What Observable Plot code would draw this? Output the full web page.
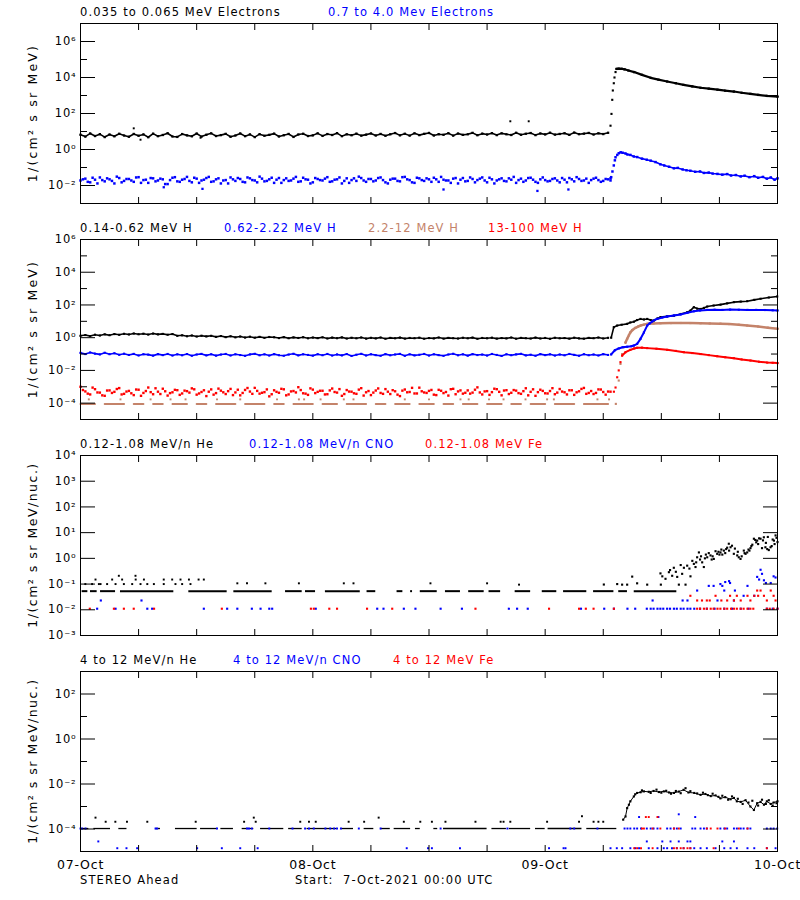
<!DOCTYPE html>
<html><head><meta charset="utf-8">
<script src="https://cdn.jsdelivr.net/npm/d3@7"></script>
<script src="https://cdn.jsdelivr.net/npm/@observablehq/plot@0.6"></script>
<style>
body{margin:0;background:#fff;}
#chart{position:relative;width:800px;height:900px;background:#fff;font-family:"DejaVu Sans",sans-serif;overflow:hidden;}
.t{position:absolute;white-space:nowrap;font-size:11.5px;letter-spacing:1.1px;line-height:1;transform:translateY(-50%);}
.yl{position:absolute;white-space:nowrap;font-size:12.5px;line-height:1;transform:translate(-50%,-50%) rotate(-90deg);}
.p{position:absolute;left:0;}
</style></head><body><div id="chart"></div><script>
// ---------------- DATA (hours since 7-Oct-2021 00:00 UTC) ----------------
const STEP = 0.5; // baseline sampling (h)
const OFFSET_B = 0.25; // second interleaved baseline sample
const BLUE = "#0000ff", RED = "#ff0000", BROWN = "#c4836a", BLACK = "#000000";

// Panel 1 : electrons
const p1BlackBase = [6.6,5.2,7.8,5.6,7.1,4.9,6.8,5.4,7.5,6.0, 5.1,7.3,5.8,6.9,4.8,7.6,5.5,6.4,8.0,5.3,
 5.0,7.2,6.1,5.4,7.7,5.2,6.6,7.9,5.6,6.3, 7.4,5.1,6.0,7.8,5.5,6.9,4.9,7.1,5.8,6.5,
 7.6,5.3,6.2,7.3,5.0,6.8,7.5,5.6,6.1,7.9, 5.7,7.2,6.4,8.1,5.5,7.0,6.2,7.6,5.9,6.7,
 7.8,6.0,7.3,5.8,7.0,8.2,6.1,7.5,5.9,7.9, 6.3,7.4,8.3,6.0,7.1,6.6,8.0,5.9,7.7,6.5,
 7.0,8.4,6.2,7.6,6.8,8.1,6.3,7.9,7.0,6.4, 8.5,6.6,7.5,8.2,6.3,7.8,6.9,8.6,6.7,7.3,
 8.0,6.5,8.7,7.1,7.6,8.3,6.8,7.9,7.2,8.5];
const p1BlackSpikeT = [5.5,6.2,12.4,44.4,46.3];
const p1BlackSpikeV = [15,3.5,4.5,37,37];
const p1BlackRiseT = [54.75,54.85,54.93,54.99,55.09,55.16,55.27];
const p1BlackRiseV = [21,95,575,1900,4800,10000,20000];
const p1BlackDecayT = [55.37,55.6,55.9,56.2,56.6,57.2,58.0,58.9,59.7,60.6,61.5,62.3,63.2,64.05,64.9,65.8,66.6,67.5,68.3,69.2,70.0,70.9,72.0];
const p1BlackDecayV = [30000,31000,30500,28500,24500,20000,14000,9600,7600,6000,4800,3900,3200,2700,2400,2100,1850,1660,1420,1230,1080,950,870];

const p1BlueBase = [0.019,0.024,0.015,0.021,0.028,0.017,0.022,0.013,0.026,0.018,
 0.023,0.016,0.029,0.020,0.014,0.025,0.019,0.022,0.012,0.027, 0.017,0.021,0.030,0.015,0.024,0.019,0.026,0.016,0.022,0.013,
 0.020,0.028,0.018,0.023,0.015,0.025,0.019,0.031,0.017,0.022, 0.014,0.026,0.020,0.018,0.024,0.016,0.027,0.021,0.015,0.023,
 0.019,0.029,0.017,0.022,0.013,0.025,0.020,0.018,0.026,0.016, 0.023,0.019,0.028,0.015,0.021,0.024,0.017,0.030,0.020,0.014,
 0.025,0.018,0.022,0.027,0.016,0.021,0.019,0.024,0.013,0.026, 0.018,0.023,0.020,0.028,0.015,0.022,0.019,0.025,0.017,0.021,
 0.014,0.024,0.019,0.027,0.016,0.022,0.020,0.018,0.025,0.015, 0.021,0.026,0.017,0.023,0.019,0.014,0.024,0.020,0.018,0.022];
const p1BlueBaseB = [0.022,0.016,0.027,0.013,0.020,0.025,0.018,0.031,0.015,0.023,
 0.019,0.028,0.014,0.021,0.026,0.017,0.024,0.012,0.020,0.029, 0.016,0.023,0.018,0.027,0.014,0.021,0.030,0.017,0.025,0.019,
 0.013,0.022,0.026,0.016,0.028,0.020,0.015,0.024,0.018,0.027, 0.021,0.014,0.025,0.019,0.030,0.017,0.022,0.013,0.026,0.020,
 0.024,0.016,0.021,0.028,0.018,0.014,0.025,0.031,0.019,0.023, 0.017,0.026,0.020,0.013,0.024,0.018,0.029,0.022,0.015,0.027,
 0.020,0.025,0.016,0.022,0.030,0.019,0.014,0.026,0.021,0.017, 0.028,0.015,0.024,0.019,0.027,0.013,0.022,0.018,0.025,0.030,
 0.020,0.016,0.026,0.021,0.014,0.028,0.017,0.023,0.019,0.026, 0.015,0.022,0.029,0.018,0.024,0.020,0.027,0.016,0.023,0.019];
const p1BlueLowT = [8.6,12.6,37.5,47.2,50.4];
const p1BlueLowV = [0.008,0.0065,0.006,0.005,0.006];
const p1BlueRiseT = [54.75,54.82,54.95,55.09,55.2,55.27,55.45];
const p1BlueRiseV = [0.025,0.029,0.06,0.13,0.25,0.37,0.5];
const p1BlueDecayT = [55.6,55.8,56.0,56.3,56.5,56.8,57.16,57.5,58.0,58.5,58.9,59.4,59.9,60.3,60.8,61.3,61.7,62.2,62.6,63.0,63.5,64.0,64.4,64.9,65.3,65.8,66.3,66.8,67.2,67.7,68.2,68.6,69.1,69.6,70.0,70.5,70.9,71.3,71.7,72.0];
const p1BlueDecayV = [0.62,0.7,0.66,0.6,0.53,0.5,0.41,0.38,0.31,0.27,0.24,0.2,0.15,0.13,0.11,0.09,0.095,0.078,0.07,0.066,0.058,0.06,0.05,0.052,0.046,0.044,0.04,0.043,0.036,0.038,0.032,0.035,0.029,0.033,0.027,0.03,0.024,0.028,0.021,0.025];

// Panel 2 : protons
const p2BlackBase = [1.30,1.45,1.25,1.52,1.36,1.60,1.42,1.66,1.50,1.72, 1.58,1.80,1.62,1.75,1.55,1.78,1.60,1.70,1.52,1.66,
 1.30,1.40,1.22,1.36,1.18,1.32,1.20,1.30,1.12,1.26, 1.08,1.22,1.05,1.18,1.02,1.15,1.00,1.12,0.98,1.10,
 1.06,0.95,1.08,0.93,1.04,0.96,1.07,0.92,1.02,0.94, 1.05,0.90,1.01,0.93,1.04,0.89,0.99,0.92,1.03,0.88,
 0.98,0.91,1.02,0.87,0.97,0.92,1.01,0.88,0.96,0.93, 1.00,0.87,0.95,0.91,1.02,0.88,0.97,0.93,0.89,0.99,
 0.92,1.01,0.86,0.96,0.92,1.00,0.88,0.95,0.91,1.02, 0.87,0.97,0.93,0.89,1.01,0.90,0.96,0.86,0.99,0.92,
 0.95,0.88,1.00,0.91,0.87,0.97,0.93,1.02,0.90,0.98];
const p2BlackEvT = [54.82,55.09,55.44,55.9,56.47,56.8,57.16,57.5,57.85,58.2,58.54,58.9,59.22,59.6,59.91,60.6,61.29,62.0,62.67,63.0,63.36,63.7,64.05,64.4,64.74,65.4,66.11,66.8,67.49,68.2,68.87,69.6,70.25,71.1,71.97];
const p2BlackEvV = [1.0,4.4,5.5,6.2,7,8.5,9.5,12,14,13,14,12,11,15,18,20,22,28,36,45,73,60,57,66,80,92,105,125,148,160,170,205,240,285,330];

const p2BlueBase = [0.118,0.100,0.125,0.106,0.095,0.120,0.098,0.112,0.090,0.105,
 0.088,0.102,0.082,0.098,0.092,0.080,0.099,0.086,0.101,0.081, 0.096,0.084,0.100,0.079,0.094,0.102,0.083,0.097,0.080,0.093,
 0.101,0.082,0.097,0.087,0.078,0.095,0.103,0.084,0.096,0.081, 0.099,0.085,0.079,0.093,0.104,0.083,0.097,0.088,0.080,0.098,
 0.085,0.101,0.081,0.095,0.083,0.100,0.077,0.091,0.103,0.082, 0.097,0.086,0.079,0.099,0.084,0.094,0.102,0.078,0.096,0.083,
 0.090,0.101,0.081,0.097,0.086,0.078,0.094,0.104,0.084,0.096, 0.080,0.099,0.087,0.093,0.081,0.101,0.088,0.077,0.097,0.085,
 0.095,0.103,0.083,0.091,0.079,0.099,0.086,0.096,0.081,0.094, 0.084,0.101,0.089,0.079,0.098,0.085,0.094,0.082,0.099,0.088];
const p2BlueEvT = [54.82,55.2,55.6,56.0,56.47,56.9,57.16,57.5,57.85,58.2,58.54,58.8,59.05,59.3,59.57,60.1,60.6,61.3,61.98,62.7,63.36,64.0,64.74,65.5,66.3,67.1,68.0,68.9,69.8,70.7,71.5,72.0];
const p2BlueEvV = [0.095,0.17,0.22,0.26,0.28,0.3,0.33,0.42,0.85,2.1,5.5,7.5,9.6,12,14,17,19.5,23,26,33,41,46,50,51,50,52,51,50,50,49,47,46];

const BROWN_HIGH = 1.7e-4;
const p2BrownBase = [9e-5,9e-5,9e-5,9e-5,null,9e-5,9e-5,9e-5,9e-5,9e-5, null,9e-5,9e-5,9e-5,null,9e-5,9e-5,9e-5,null,9e-5,
 9e-5,9e-5,9e-5,null,9e-5,9e-5,9e-5,null,9e-5,9e-5, 9e-5,9e-5,9e-5,null,9e-5,9e-5,9e-5,9e-5,9e-5,null,
 9e-5,9e-5,9e-5,null,9e-5,9e-5,9e-5,9e-5,9e-5,null, 9e-5,9e-5,9e-5,9e-5,null,9e-5,9e-5,9e-5,9e-5,9e-5,
 null,9e-5,9e-5,9e-5,null,9e-5,9e-5,9e-5,9e-5,null, 9e-5,9e-5,9e-5,9e-5,null,9e-5,9e-5,9e-5,null,9e-5,
 9e-5,9e-5,9e-5,null,9e-5,9e-5,9e-5,9e-5,null,9e-5, 9e-5,9e-5,null,9e-5,9e-5,9e-5,9e-5,null,9e-5,9e-5,
 9e-5,9e-5,9e-5,null,9e-5,9e-5,9e-5,9e-5,9e-5,9e-5];
const p2BrownHiT = [0.86,4.13,7.24,9.3,10.85,14.1,16.5,20.3,22.56,23.1,24.8,27.2,28.2,33.5,36.0,39.25,40.1,42.2,43.7,45.97,48.2,48.9,53.4,54.6];
const p2BrownEvT = [55.3,55.6,55.78,55.95,56.12,56.3,56.47,56.65,56.8,57.0,57.33,57.6,57.85,58.2,58.54,59.2,59.91,61.0,62.0,63.0,64.05,65.0,66.11,67.0,68.0,68.87,70.0,71.0,72.0];
const p2BrownEvV = [9e-5,0.0024,0.025,0.1,0.26,0.5,0.85,1.4,2.1,2.9,4,4.8,5.5,6.3,7,7.4,7.6,7.8,7.9,7.8,7.6,7.4,7.2,6.8,6.2,5.5,4.8,4.1,3.5];

const p2RedBase = [1.0e-3,5.2e-4,3.4e-4,7.1e-4,4.4e-4,2.8e-4,6.0e-4,4.9e-4,8.3e-4,3.7e-4,
 5.6e-4,3.1e-4,6.6e-4,4.2e-4,9.0e-4,3.5e-4,5.0e-4,7.6e-4,2.9e-4,4.6e-4, 6.2e-4,3.9e-4,5.4e-4,8.0e-4,3.3e-4,4.8e-4,2.7e-4,6.9e-4,4.1e-4,5.8e-4,
 3.6e-4,7.4e-4,4.5e-4,3.0e-4,6.4e-4,5.1e-4,8.6e-4,3.8e-4,4.7e-4,2.6e-4, 6.1e-4,4.3e-4,7.0e-4,3.4e-4,5.5e-4,9.4e-4,4.0e-4,3.2e-4,6.7e-4,4.9e-4,
 5.7e-4,3.5e-4,7.8e-4,4.4e-4,2.8e-4,6.3e-4,5.0e-4,3.7e-4,8.2e-4,4.6e-4, 3.1e-4,5.9e-4,4.2e-4,7.2e-4,3.6e-4,5.3e-4,2.7e-4,6.8e-4,4.8e-4,3.9e-4,
 8.8e-4,4.5e-4,5.6e-4,3.3e-4,6.5e-4,4.1e-4,2.9e-4,7.5e-4,5.2e-4,3.8e-4, 6.0e-4,4.4e-4,9.2e-4,3.4e-4,5.4e-4,4.7e-4,7.1e-4,3.0e-4,6.2e-4,4.3e-4,
 5.8e-4,3.7e-4,8.1e-4,4.9e-4,2.8e-4,6.6e-4,4.0e-4,5.5e-4,3.5e-4,7.3e-4, 4.6e-4,6.1e-4,3.2e-4,5.3e-4,8.5e-4,4.2e-4,3.6e-4,6.9e-4,4.8e-4,5.1e-4];
const p2RedBaseB = [6.3e-4,3.8e-4,8.9e-4,4.5e-4,3.0e-4,5.9e-4,4.2e-4,7.3e-4,3.4e-4,5.1e-4,
 4.0e-4,6.8e-4,2.8e-4,5.5e-4,4.7e-4,8.1e-4,3.6e-4,5.3e-4,4.1e-4,6.5e-4, 3.2e-4,5.8e-4,4.4e-4,7.0e-4,3.9e-4,6.1e-4,5.0e-4,3.3e-4,7.7e-4,4.6e-4,
 5.4e-4,3.1e-4,6.6e-4,4.2e-4,8.4e-4,3.7e-4,5.6e-4,4.3e-4,6.9e-4,3.5e-4, 4.9e-4,7.5e-4,3.0e-4,5.2e-4,4.5e-4,6.3e-4,3.8e-4,8.0e-4,4.1e-4,5.7e-4,
 3.4e-4,6.0e-4,4.8e-4,7.2e-4,3.6e-4,5.1e-4,4.0e-4,6.7e-4,2.9e-4,5.5e-4, 4.4e-4,7.9e-4,3.7e-4,5.0e-4,6.2e-4,3.3e-4,5.8e-4,4.6e-4,8.6e-4,3.9e-4,
 5.3e-4,4.2e-4,6.4e-4,3.1e-4,5.7e-4,4.8e-4,7.1e-4,3.5e-4,6.0e-4,4.3e-4, 3.8e-4,6.6e-4,4.5e-4,5.2e-4,3.2e-4,7.6e-4,4.9e-4,5.9e-4,3.6e-4,6.3e-4,
 4.1e-4,5.4e-4,3.0e-4,7.0e-4,4.7e-4,5.6e-4,3.9e-4,8.2e-4,4.4e-4,5.1e-4, 3.4e-4,6.1e-4,4.6e-4,7.4e-4,3.7e-4,5.5e-4,4.2e-4,6.8e-4,3.3e-4,5.0e-4];
const p2RedEvT = [55.1,55.27,55.44,55.6,55.78,55.95,56.3,56.8,57.2,57.5,58.0,58.54,59.5,60.6,61.5,62.33,63.2,64.05,64.9,65.77,66.6,67.49,68.3,69.21,70.1,70.94,71.5,72.0];
const p2RedEvV = [5e-4,9e-4,0.0038,0.01,0.032,0.08,0.13,0.18,0.22,0.24,0.245,0.23,0.21,0.18,0.155,0.13,0.115,0.1,0.086,0.074,0.064,0.056,0.047,0.04,0.034,0.03,0.029,0.028];
const RISE_END = {brown: 56.3, red: 55.95}; // before these times the rise is drawn as loose dots

// Panel 3 : 0.12-1.08 MeV/n ions
const P3_HE_LOW = 0.053, P3_LOW = 0.011;
const p3HeLowSeg = [[0.17,0.76],[1.03,1.72],[2.07,3.62],[4.13,9.64],[11.19,15.15],[15.84,19.8],[21.18,22.9],[23.24,24.28],[25.3,28.9],[29.6,30.5],[32.7,33.3],[34.1,34.3],[35.1,36.85],[37.7,39.25],[40.1,41.7],[42.2,43.4],[44.9,46.5],[47.7,49.2],[49.9,52.3],[53.0,55.1],[55.6,56.5],[57.2,61.6]];
const p3HeBgT = [0.5,1.2,1.9,2.07,2.75,3.62,4.48,5.34,6.2,6.9,7.58,8.6,9.81,10.5,11.36,16.2,17.2,19.1,22.56,27.2,28.2,36.15,42.0,45.3,1.55,3.27,4.3,5.7,6.55,8.6,9.47,10.33,11.2,12.2,12.74,3.96,5.68];
const p3HeBgV = [0.1,0.1,0.1,0.1,0.1,0.1,0.1,0.1,0.1,0.1,0.1,0.1,0.1,0.1,0.1,0.107,0.107,0.107,0.107,0.107,0.107,0.107,0.107,0.095,0.15,0.15,0.15,0.15,0.15,0.15,0.15,0.15,0.15,0.15,0.15,0.21,0.21];
const p3HeEvT = [54.06,55.44,55.95,56.47,56.99,57.5,58.54,59.91,59.95,60.43,60.78,61.12,61.29,61.64,61.81,62.15,62.33,62.5,62.67,63.01,63.36,63.53,63.7,63.88,64.0,64.22,64.39,64.6,64.74,65.08,65.3,65.42,65.77,65.9,66.11,66.3,66.46,66.7,66.97,67.15,67.3,67.49,67.84,68.0,68.18,68.52,68.7,68.87,69.0,69.21,69.4,69.56,69.7,69.9,70.1,70.25,70.4,70.59,70.75,70.94,71.1,71.28,71.4,71.63,71.8,71.9,72.0,
 60.1,60.9,61.5,62.0,62.9,63.2,63.6,64.1,64.5,64.9,65.2,65.6,66.0,66.2,66.6,66.8,67.0,67.6,67.9,68.3,68.6,69.1,69.3,69.8,70.0,70.5,70.8,71.0,71.5,71.7];
const p3HeEvV = [0.096,0.1,0.095,0.095,0.195,0.107,0.095,0.26,0.095,0.16,0.29,0.21,0.43,0.19,0.095,0.25,0.43,0.095,0.52,0.2,0.61,0.46,1.1,1.7,0.9,0.7,0.46,1.4,1.1,1.3,1.2,0.95,1.5,1.8,1.7,1.4,2.0,2.3,3.7,2.7,3.1,1.5,1.3,1.1,0.95,2.0,1.5,1.7,2.2,2.5,3.4,5.8,5.2,4.9,6.0,5.8,2.5,6.6,2.7,2.3,2.1,2.7,3.0,4.9,7.8,6.3,4.3,
 0.2,0.35,0.3,0.55,0.4,0.8,0.7,1.2,1.0,1.6,0.9,1.9,1.4,2.2,1.6,2.6,2.0,2.4,1.8,1.2,1.6,2.0,3.0,4.2,3.6,5.0,4.0,6.8,5.4,3.6];
const p3CnoLowT = [1.72,3.62,6.9,7.4,12.74,15.15,16.2,17.7,18.6,19.5,19.8,24.3,30.65,31.3,33.4,34.6,37.2,39.4,44.25,45.1,46.2,51.7,54.1,55.1,56.5,57.3,58.5,58.9,59.2,59.6,59.9,60.2,60.6,60.9,61.3,61.6,62.0,62.3,62.7,63.0,63.4,64.0,64.7,65.5,66.5,67.3,68.2,69.0,70.9,71.5,72.0];
const p3CnoHiT = [2.1,6.3,59.1,62.2,62.7,65.8,67.5,68.5,69.6,63.7,66.5,67.6,64.9,65.4,66.3,68.9,66.1,66.6,67.0,67.1,69.9,70.1,70.25,70.4,70.6,70.8,71.3,71.6,71.8];
const p3CnoHiV = [0.023,0.023,0.023,0.023,0.023,0.023,0.023,0.035,0.035,0.056,0.056,0.056,0.085,0.085,0.085,0.085,0.1,0.12,0.13,0.11,0.19,0.15,0.36,0.25,0.14,0.11,0.11,0.2,0.18];
const p3FeLowT = [0.96,3.45,4.48,5.5,7.6,14.6,23.8,24.1,25.7,26.5,29.6,32.2,40.8,48.4,51.5,52.2,53.0,55.1,63.7,64.0,64.4,64.7,65.1,65.4,65.8,66.1,66.5,66.8,67.2,67.5,67.8,68.2,68.5,68.9,69.2,69.5,70.9,71.2,71.6,72.0];
const p3FeHiT = [63.7,64.7,66.8,67.5,68.2,70.9,71.8,63.0,67.1,67.8,68.9,69.6,70.6,71.6,69.9,70.25,71.3,64.2,65.0,65.6,66.2,69.2,70.0];
const p3FeHiV = [0.023,0.023,0.023,0.023,0.023,0.023,0.023,0.035,0.035,0.035,0.035,0.035,0.035,0.035,0.056,0.056,0.056,0.023,0.023,0.035,0.023,0.023,0.035];

// Panel 4 : 4-12 MeV/n ions
const P4_BASE = 1.05e-4, P4_MID = 2.8e-5, P4_LOW = 1.4e-5, P4_UP = 3.4e-4;
const p4HeBaseSeg = [[0.17,0.86],[1.38,3.1],[3.96,4.8],[7.75,8.26],[9.81,12.05],[12.4,14.1],[14.5,15.8],[16.7,17.9],[18.6,21.0],[21.5,22.9],[23.4,26.5],[26.9,28.2],[29.3,30.3],[31.0,32.0],[32.4,34.1],[34.6,35.1],[36.5,36.9],[37.5,42.0],[42.5,44.0],[44.3,46.5],[47.0,48.0],[48.3,51.8],[52.3,55.4]];
const p4HeBgT = [2.6,3.6,4.8,6.9,11.9,16.9,18.1,22.7,23.6,24.3,27.7,29.3,33.4,35.1,36.3,37.7,40.8,43.4,43.7,44.4,48.2,51.5,53.0,53.5,54.0,1.55,17.9,30.8,51.8];
const p4HeBgV = [2.1e-4,2.1e-4,2.1e-4,2.1e-4,2.1e-4,2.1e-4,2.1e-4,2.1e-4,2.1e-4,2.1e-4,2.1e-4,2.1e-4,2.1e-4,2.1e-4,2.1e-4,2.1e-4,2.1e-4,2.1e-4,2.1e-4,2.1e-4,2.1e-4,2.1e-4,2.1e-4,2.1e-4,2.1e-4,3.2e-4,3.2e-4,3.2e-4,3.7e-4];
const p4HeEvT = [56.06,56.3,56.47,56.65,56.8,57.16,57.5,57.85,58.2,58.7,59.2,59.75,60.26,60.8,61.3,61.8,62.3,62.8,63.4,64.05,64.55,65.1,65.6,66.1,66.6,67.15,67.5,67.8,68.2,68.7,69.2,69.56,69.9,70.25,70.6,70.9,71.3,71.6,72.0];
const p4HeEvV = [2.6e-4,3.6e-4,8.5e-4,1.2e-3,1.7e-3,2.8e-3,4.0e-3,4.3e-3,4.7e-3,4.5e-3,4.9e-3,4.4e-3,4.7e-3,4.2e-3,4.0e-3,4.6e-3,5.5e-3,4.2e-3,4.0e-3,3.3e-3,3.6e-3,2.9e-3,3.1e-3,2.3e-3,2.6e-3,2.1e-3,2.4e-3,1.7e-3,1.6e-3,1.9e-3,1.0e-3,7e-4,1.4e-3,1.6e-3,1.2e-3,1.7e-3,1.3e-3,1.5e-3,1.7e-3];
const p4HeScT = [57.3,58.0,58.9,59.5,60.0,60.5,61.0,61.5,62.0,62.5,63.0,63.7,64.3,64.8,65.3,65.9,66.3,66.9,67.3,67.9,68.4,69.0,69.4,70.0,70.4,70.8,71.1,71.5,71.9];
const p4HeScV = [3.5e-3,5.2e-3,4.0e-3,5.6e-3,4.1e-3,5.0e-3,3.7e-3,4.9e-3,3.9e-3,6.5e-3,4.8e-3,3.8e-3,4.1e-3,3.2e-3,3.7e-3,2.7e-3,3.0e-3,2.0e-3,2.8e-3,2.2e-3,1.3e-3,1.5e-3,1.8e-3,1.1e-3,2.0e-3,1.3e-3,1.9e-3,1.1e-3,1.4e-3];
const p4CnoBaseT = [0.0,0.17,0.52,7.75,7.92,14.1,17.2,17.4,17.7,19.5,21.9,23.2,23.6,24.1,25.3,25.8,26.2,26.5,26.9,28.75,31.0,37.2,44.1,50.6,51.0,53.4,56.2,56.5,56.8,57.2,57.5,57.9,58.5,58.9,59.2,59.6,60.6,60.95,61.3,61.6,62.0,63.2,63.5,64.05,64.4,64.7,66.1,66.5,66.8,67.5,67.8,68.2,68.5,68.9,69.2,70.9,71.3,71.6,71.97];
const p4CnoMidT = [1.84,58.5,60.1,60.95,61.8,62.7,63.0,66.3,67.5];
const p4CnoLowT = [3.8,4.75,5.85,12.05,14.6,16.5,18.3,33.7,35.9,36.3,39.2,48.4,49.9,50.1,54.75,55.4,55.95,56.8,57.3,57.7,58.7,59.6,60.25,60.6,61.1,61.6,62.3,63.0,63.4,64.05,64.7,65.6,66.5,67.15,67.8,68.9,69.6,70.9,71.8];
const p4CnoUpT = [57.7,59.7,63.5,61.8];
const p4CnoUpV = [3.4e-4,3.4e-4,3.4e-4,4.5e-4];
const p4FeLowT = [57.2,57.5,57.9,59.1,61.3,61.6,62.0,62.3,62.7,63.0,65.4,70.9];
const p4FeBaseT = [58.0,58.2,59.1,59.9,61.3,61.8,64.7,65.1,65.8,66.6,68.0,68.9];
const p4FeUpT = [58.4,58.7,59.6];

// axes
const hourTicks = [6,12,18,24,30,36,42,48,54,60,66];
const dayTicks = [0,24,48,72];
const dayLabels = ["07-Oct","08-Oct","09-Oct","10-Oct"];
const SUP = {"-":"⁻","0":"⁰","1":"¹","2":"²","3":"³","4":"⁴","5":"⁵","6":"⁶","7":"⁷","8":"⁸","9":"⁹"};
const pow10 = d => "10" + String(Math.round(Math.log10(d))).split("").map(c => SUP[c]).join("");

// ---------------- helpers ----------------
const grid = (vals, off = 0) => vals.map((v, i) => ({t: off + i * STEP, v}));
const pairs = (ts, vs) => ts.map((t, i) => ({t, v: vs[i]}));
const lvl = (ts, v) => ts.map(t => ({t, v}));
const dots = (data, fill, r = 1.1) => Plot.dot(data, {x: "t", y: "v", r, symbol: "square", fill, stroke: null});
const line = (data, stroke, w = 1.5, from = -Infinity) => Plot.line(data, {x: "t", y: "v", stroke, strokeWidth: w, filter: d => d.t >= from});
const segs = (s, v, stroke, w = 2) => Plot.ruleY(s.map(d => ({t1: d[0], t2: d[1], v})), {y: "v", x1: "t1", x2: "t2", stroke, strokeWidth: w});

const chart = document.getElementById("chart");
const TOP = 4;
function panel(frameTop, yDomain, labelTicks, longTicks, shortTicks, marks, last) {
  const mb = last ? 30 : 4;
  const svg = Plot.plot({
    width: 800, height: 180 + TOP + mb,
    marginLeft: 80, marginRight: 23, marginTop: TOP, marginBottom: mb,
    style: {fontFamily: "DejaVu Sans", fontSize: "11.5px", letterSpacing: "0.8px", background: "transparent", overflow: "visible", color: "black"},
    x: {domain: [0, 72], label: null},
    y: {type: "log", domain: yDomain, label: null},
    marks: [
      ...marks,
      Plot.frame({stroke: "black", strokeWidth: 1}),
      Plot.axisY(longTicks, {anchor: "left", tickSize: -15, tickFormat: () => "", label: null}),
      Plot.axisY(shortTicks, {anchor: "left", tickSize: -7, tickFormat: () => "", label: null}),
      Plot.axisY(longTicks, {anchor: "right", tickSize: -15, tickFormat: () => "", label: null}),
      Plot.axisY(shortTicks, {anchor: "right", tickSize: -7, tickFormat: () => "", label: null}),
      Plot.axisY(labelTicks, {anchor: "left", tickSize: 0, tickPadding: 4, tickFormat: pow10, label: null}),
      Plot.axisX(hourTicks, {anchor: "bottom", tickSize: -6, tickFormat: () => "", label: null}),
      Plot.axisX(hourTicks, {anchor: "top", tickSize: -6, tickFormat: () => "", label: null}),
      ...(last ? [Plot.axisX(dayTicks, {anchor: "bottom", tickSize: 0, tickPadding: 9, fontSize: 12.5, tickFormat: d => dayLabels[dayTicks.indexOf(d)], label: null})] : [])
    ]
  });
  const wrap = document.createElement("div");
  wrap.className = "p";
  wrap.style.top = (frameTop - TOP) + "px";
  wrap.appendChild(svg);
  chart.appendChild(wrap);
}
function text(str, x, y, color, cls = "t") {
  const d = document.createElement("div");
  d.className = cls; d.textContent = str; d.style.left = x + "px"; d.style.top = y + "px"; d.style.color = color;
  chart.appendChild(d);
  return d;
}

// ---------------- panels ----------------
panel(23, [1e-3, 1e7], [1e-2, 1, 1e2, 1e4, 1e6], [1e-2, 1, 1e2, 1e4, 1e6], [1e-1, 10, 1e3, 1e5], [
  line(grid(p1BlackBase), BLACK, 1.6), dots(grid(p1BlackBase), BLACK, 1.3),
  dots(pairs(p1BlackSpikeT, p1BlackSpikeV), BLACK),
  dots(pairs(p1BlackRiseT, p1BlackRiseV), BLACK, 1.2),
  line(pairs(p1BlackDecayT, p1BlackDecayV), BLACK, 2.2), dots(pairs(p1BlackDecayT, p1BlackDecayV), BLACK, 1.3),
  dots(grid(p1BlueBase), BLUE, 1.4), dots(grid(p1BlueBaseB, OFFSET_B), BLUE, 1.4), dots(pairs(p1BlueLowT, p1BlueLowV), BLUE, 1.3),
  dots(pairs(p1BlueRiseT, p1BlueRiseV), BLUE, 1.4),
  line(pairs(p1BlueDecayT, p1BlueDecayV), BLUE, 1.6), dots(pairs(p1BlueDecayT, p1BlueDecayV), BLUE, 1.4)
]);
panel(239, [1e-5, 1e6], [1e-4, 1e-2, 1, 1e2, 1e4, 1e6], [1e-4, 1e-2, 1, 1e2, 1e4], [1e-3, 1e-1, 10, 1e3, 1e5], [
  line(grid(p2BlackBase), BLACK, 1.6), dots(grid(p2BlackBase), BLACK, 1.2),
  line(pairs(p2BlackEvT, p2BlackEvV), BLACK, 1.6), dots(pairs(p2BlackEvT, p2BlackEvV), BLACK, 1.2),
  line(grid(p2BrownBase), BROWN, 2), dots(lvl(p2BrownHiT, BROWN_HIGH), BROWN),
  line(pairs(p2BrownEvT, p2BrownEvV), BROWN, 2.5, RISE_END.brown), dots(pairs(p2BrownEvT, p2BrownEvV), BROWN, 1.2),
  line(grid(p2BlueBase), BLUE, 1.6), dots(grid(p2BlueBase), BLUE, 1.2),
  line(pairs(p2BlueEvT, p2BlueEvV), BLUE, 2), dots(pairs(p2BlueEvT, p2BlueEvV), BLUE, 1.2),
  dots(grid(p2RedBase), RED, 1.35), dots(grid(p2RedBaseB, OFFSET_B), RED, 1.35),
  line(pairs(p2RedEvT, p2RedEvV), RED, 2, RISE_END.red), dots(pairs(p2RedEvT, p2RedEvV), RED, 1.2)
]);
panel(455, [1e-3, 1e4], [1e-3, 1e-2, 1e-1, 1, 10, 1e2, 1e3, 1e4], [1e-2, 1e-1, 1, 10, 1e2, 1e3], [], [
  segs(p3HeLowSeg, P3_HE_LOW, BLACK, 2),
  dots(pairs(p3HeBgT, p3HeBgV), BLACK), dots(pairs(p3HeEvT, p3HeEvV), BLACK, 1.2),
  dots(lvl(p3CnoLowT, P3_LOW), BLUE, 1.2), dots(pairs(p3CnoHiT, p3CnoHiV), BLUE, 1.2),
  dots(lvl(p3FeLowT, P3_LOW), RED, 1.2), dots(pairs(p3FeHiT, p3FeHiV), RED, 1.2)
]);
panel(671, [1e-5, 1e3], [1e-4, 1e-2, 1, 1e2], [1e-4, 1e-2, 1, 1e2], [1e-3, 1e-1, 10], [
  segs(p4HeBaseSeg, P4_BASE, BLACK, 1.3),
  dots(pairs(p4HeBgT, p4HeBgV), BLACK),
  line(pairs(p4HeEvT, p4HeEvV), BLACK, 1), dots(pairs(p4HeEvT, p4HeEvV), BLACK, 1.2), dots(pairs(p4HeScT, p4HeScV), BLACK, 1.2),
  dots(lvl(p4CnoBaseT, P4_BASE), BLUE, 1.1), dots(lvl(p4CnoMidT, P4_MID), BLUE, 1.1), dots(lvl(p4CnoLowT, P4_LOW), BLUE, 1.1),
  dots(pairs(p4CnoUpT, p4CnoUpV), BLUE, 1.1),
  dots(lvl(p4FeLowT, P4_LOW), RED, 1.1), dots(lvl(p4FeBaseT, P4_BASE), RED, 1.1), dots(lvl(p4FeUpT, P4_UP), RED, 1.1)
], true);

// ---------------- titles & labels ----------------
text("0.035 to 0.065 MeV Electrons", 80, 13, BLACK);
text("0.7 to 4.0 Mev Electrons", 328, 13, BLUE);
text("0.14-0.62 MeV H", 80, 229, BLACK);
text("0.62-2.22 MeV H", 224, 229, BLUE);
text("2.2-12 MeV H", 368, 229, BROWN);
text("13-100 MeV H", 488, 229, RED);
text("0.12-1.08 MeV/n He", 80, 445, BLACK);
text("0.12-1.08 MeV/n CNO", 249, 445, BLUE);
text("0.12-1.08 MeV Fe", 425, 445, RED);
text("4 to 12 MeV/n He", 80, 661, BLACK);
text("4 to 12 MeV/n CNO", 233, 661, BLUE);
text("4 to 12 MeV Fe", 393, 661, RED);
text("STEREO Ahead", 80, 881, BLACK);
text("Start:  7-Oct-2021 00:00 UTC", 295, 881, BLACK).style.whiteSpace = "pre";
const yl1 = text("1/(cm² s sr MeV)", 33, 113, BLACK, "yl"); yl1.style.letterSpacing = "2.2px";
const yl2 = text("1/(cm² s sr MeV)", 33, 329, BLACK, "yl"); yl2.style.letterSpacing = "2.2px";
const yl3 = text("1/(cm² s sr MeV/nuc.)", 33, 545, BLACK, "yl"); yl3.style.letterSpacing = "1.5px";
const yl4 = text("1/(cm² s sr MeV/nuc.)", 33, 761, BLACK, "yl"); yl4.style.letterSpacing = "1.5px";
</script></body></html>
